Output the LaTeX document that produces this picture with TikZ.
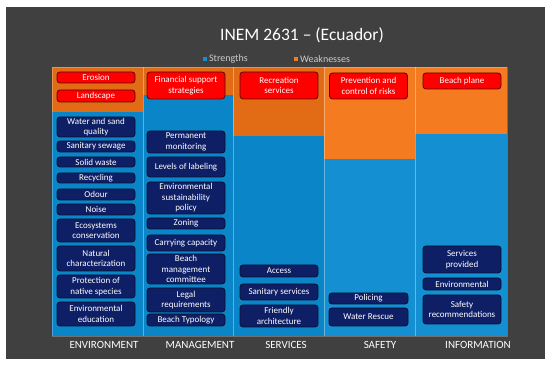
\documentclass[tikz,border=0pt]{standalone}
\usepackage{fontspec}
\setmainfont{Carlito}
\usepackage{xcolor}
\usepackage{tikz}
\usetikzlibrary{positioning}

\definecolor{bgdark}{HTML}{404040}
\definecolor{weakc}{HTML}{F47B20}
\definecolor{weakd}{HTML}{E26C16}
\definecolor{strongc}{HTML}{1490D2}
\definecolor{strongd}{HTML}{0A86C8}
\definecolor{navy}{HTML}{0E1F66}
\definecolor{navyd}{HTML}{07102E}
\definecolor{redbox}{HTML}{FF0000}
\definecolor{redd}{HTML}{5A0606}

\begin{document}
\begin{tikzpicture}[
    x=1pt, y=-1pt,
    boxfont/.style = {font=\fontsize{9}{10.5}\selectfont},
    wk/.style      = {boxfont, draw=redd, line width=0.8pt, fill=redbox, text=white,
                      rounded corners=3pt, minimum width=78pt, align=center,
                      inner xsep=1pt, inner ysep=0.5pt},
    st/.style      = {boxfont, draw=navyd, line width=0.8pt, fill=navy, text=white,
                      rounded corners=3pt, minimum width=78pt, align=center,
                      inner xsep=1pt, inner ysep=0.5pt},
    collbl/.style  = {font=\fontsize{11}{12}\selectfont, text=white},
    lgtxt/.style   = {font=\fontsize{10}{12}\selectfont, text=white!80!black,
                      inner sep=0pt},
    sep/.style     = {draw=white, opacity=0.35, line width=0.6pt},
]
\useasboundingbox (0,0) rectangle (550,366);
\fill[bgdark] (6,7) rectangle (545,359);

%============================ TITLE & LEGEND ========================
\node[font=\fontsize{17.5}{20}\selectfont, text=white] (ttl) at (302,35)
      {INEM 2631 – (Ecuador)};
\node[fill=strongc, minimum size=4.5pt, inner sep=0pt] (lgs) at (205,59) {};
\node[lgtxt, right=1.5pt of lgs] (lgst) {Strengths};
\node[fill=weakc, minimum size=4.5pt, inner sep=0pt] (lgw) at (296,59) {};
\node[lgtxt, right=1.5pt of lgw] (lgwt) {Weaknesses};

%============================ BARS ==================================
\fill[weakd]   (52,67)  rectangle (143,112);
\fill[strongd] (52,112) rectangle (143,336);
\fill[weakd]   (143,67) rectangle (233,95);
\fill[strongd] (143,95) rectangle (233,336);
\fill[weakd]   (233,67) rectangle (324,136);
\fill[strongd] (233,136) rectangle (324,336);
\fill[weakc]   (324,67) rectangle (415,159);
\fill[strongc] (324,159) rectangle (415,336);
\fill[weakc]   (415,67) rectangle (507,134);
\fill[strongc] (415,134) rectangle (507,336);
\foreach \xs in {143,233,324,415}
  \draw[sep] (\xs,67) -- (\xs,336);
\draw[sep, opacity=0.25] (52,67) rectangle (507,336);

%============================ WEAKNESSES ============================
\node[wk, minimum height=11pt] (ero)  at (96,77.5)  {Erosion};
\node[wk, minimum height=12pt] (lsc)  at (96,96)    {Landscape};
\node[wk, minimum height=27pt] (fin)  at (186,85.5) {Financial support\\strategies};
\node[wk, minimum height=27pt] (rec)  at (279,85.5) {Recreation\\services};
\node[wk, minimum height=26pt] (prev) at (368.5,86) {Prevention  and\\control of risks};
\node[wk, minimum height=16pt] (bpl)  at (462,81)   {Beach plane};

%============================ ENVIRONMENT ===========================
\node[st, minimum height=20pt] (wsq)  at (96,127)   {Water and sand\\quality};
\node[st, minimum height=11pt] (ssw)  at (96,146.5) {Sanitary sewage};
\node[st, minimum height=10pt] (sw)   at (96,162)   {Solid waste};
\node[st, minimum height=10pt] (rcy)  at (96,178)   {Recycling};
\node[st, minimum height=11pt] (odr)  at (96,194.5) {Odour};
\node[st, minimum height=11pt] (nse)  at (96,209.5) {Noise};
\node[st, minimum height=23pt] (eco)  at (96,230.5) {Ecosystems\\conservation};
\node[st, minimum height=25pt] (nat)  at (96,258.5) {Natural\\characterization};
\node[st, minimum height=23pt] (prot) at (96,286.5) {Protection of\\native species};
\node[st, minimum height=24pt] (edu)  at (96,314)   {Environmental\\education};

%============================ MANAGEMENT ============================
\node[st, minimum height=22pt] (pmon) at (186,142)   {Permanent\\monitoring};
\node[st, minimum height=20pt] (lab)  at (186,167)   {Levels of labeling};
\node[st, minimum height=32pt] (pol)  at (186,198)   {Environmental\\sustainability\\policy};
\node[st, minimum height=11pt] (zon)  at (186,223.5) {Zoning};
\node[st, minimum height=16pt] (ccap) at (186,243)   {Carrying capacity};
\node[st, minimum height=30pt] (bmc)  at (186,269)   {Beach\\management\\committee};
\node[st, minimum height=24pt] (leg)  at (186,300)   {Legal\\requirements};
\node[st, minimum height=12pt] (btyp) at (186,320)   {Beach Typology};

%============================ SERVICES / SAFETY =====================
\node[st, minimum height=12pt] (acc)   at (279,271)   {Access};
\node[st, minimum height=16pt] (sser)  at (279,292)   {Sanitary services};
\node[st, minimum height=22pt] (farch) at (279,316)   {Friendly\\architecture};
\node[st, minimum height=11pt, minimum width=79pt] (plc)  at (368.5,298.5) {Policing};
\node[st, minimum height=18pt, minimum width=79pt] (wres) at (368.5,317)   {Water Rescue};

%============================ INFORMATION ===========================
\node[st, minimum height=27pt] (sprov) at (462,259.5) {Services\\provided};
\node[st, minimum height=12pt] (envi)  at (462,284)   {Environmental};
\node[st, minimum height=29pt] (srec)  at (462,309.5) {Safety\\recommendations};

%============================ AXIS LABELS ===========================
\node[collbl] (lenv) at (104,345) {ENVIRONMENT};
\node[collbl] (lman) at (200,345) {MANAGEMENT};
\node[collbl] (lser) at (286,345) {SERVICES};
\node[collbl] (lsaf) at (380,345) {SAFETY};
\node[collbl] (linf) at (478,345) {INFORMATION};

\end{tikzpicture}
\end{document}
